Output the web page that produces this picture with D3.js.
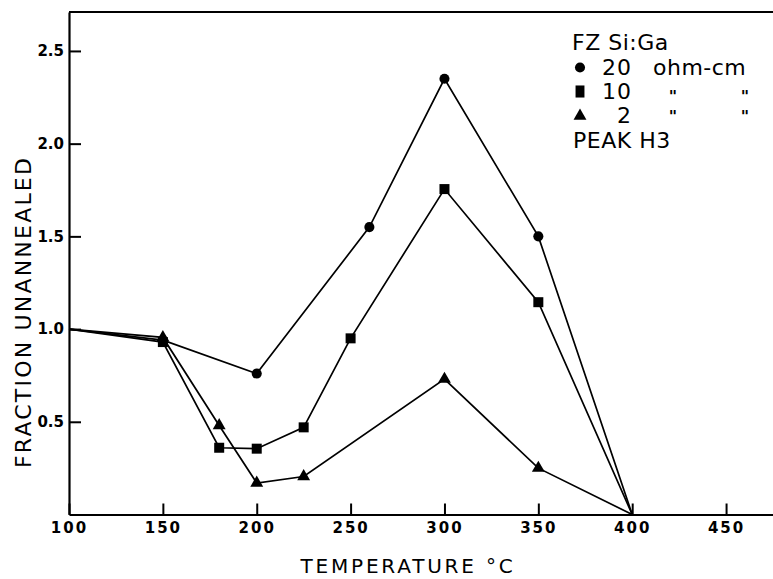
<!DOCTYPE html>
<html>
<head>
<meta charset="utf-8">
<script src="https://cdn.jsdelivr.net/npm/d3@7"></script>
<style>
  body { margin: 0; background: #fff; }
  svg { display: block; font-family: "DejaVu Sans", sans-serif; }
</style>
</head>
<body>
<svg id="chart"></svg>
<script>
let width = 773,
    height = 579,
    svg = d3.select("#chart").attr("width", width).attr("height", height);

// data
const temps20 = [100, 150, 200, 260, 300, 350, 400];
const frac20  = [1.0, 0.94, 0.76, 1.55, 2.35, 1.50, 0.0];

const temps10 = [100, 150, 180, 200, 225, 250, 300, 350, 400];
const frac10  = [1.0, 0.93, 0.36, 0.355, 0.47, 0.95, 1.755, 1.145, 0.0];

const temps2 = [100, 150, 180, 200, 225, 300, 350, 400];
const frac2  = [1.0, 0.955, 0.48, 0.17, 0.205, 0.73, 0.25, 0.0];

const xTicks = [100, 150, 200, 250, 300, 350, 400, 450];
const yTicks = [0.5, 1.0, 1.5, 2.0, 2.5];

const legendTitle = "FZ Si:Ga";
const legendNames = ["20", "10", "2"];
const legendUnit = "ohm-cm";
const legendFoot = "PEAK H3";

let x = d3.scaleLinear().domain([100, 475]).range([69, 773]);
let y = d3.scaleLinear().domain([0, 2.71]).range([514.5, 12]);

// axes
let xAxis = d3.axisBottom(x)
    .tickValues(xTicks)
    .tickSizeInner(-11)
    .tickSizeOuter(0)
    .tickPadding(8)
    .tickFormat(d3.format("d"));

let yAxis = d3.axisLeft(y)
    .tickValues(yTicks)
    .tickSizeInner(-12)
    .tickSizeOuter(0)
    .tickPadding(5)
    .tickFormat(d3.format(".1f"));

let gx = svg.append("g")
    .attr("transform", "translate(0," + y(0) + ")")
    .call(xAxis);
gx.attr("font-family", null).attr("font-size", null);
gx.selectAll("text")
    .style("font-size", "15px")
    .style("font-weight", "bold")
    .style("letter-spacing", "2px")
    .attr("fill", "#000");

let gy = svg.append("g")
    .attr("transform", "translate(" + x(100) + ",0)")
    .call(yAxis);
gy.attr("font-family", null).attr("font-size", null);
gy.selectAll("text")
    .style("font-size", "15px")
    .style("font-weight", "bold")
    .attr("fill", "#000");

svg.selectAll(".domain").attr("stroke", "#000").attr("stroke-width", 2.2);
svg.selectAll(".tick line").attr("stroke", "#000").attr("stroke-width", 2);

// top frame line
svg.append("line")
    .attr("x1", x(100)).attr("x2", width)
    .attr("y1", y(2.71)).attr("y2", y(2.71))
    .attr("stroke", "#000").attr("stroke-width", 2.2);

// axis titles
svg.append("text")
    .attr("x", 408)
    .attr("y", 573)
    .attr("text-anchor", "middle")
    .style("font-size", "20px")
    .style("letter-spacing", "2.8px")
    .text("TEMPERATURE  °C");

svg.append("text")
    .attr("transform", "translate(31,312) rotate(-90)")
    .attr("text-anchor", "middle")
    .style("font-size", "22px")
    .style("letter-spacing", "2.2px")
    .text("FRACTION  UNANNEALED");

// series
let series = [
    {t: temps20, f: frac20, sym: d3.symbolCircle, size: 80},
    {t: temps10, f: frac10, sym: d3.symbolSquare, size: 100},
    {t: temps2,  f: frac2,  sym: d3.symbolTriangle, size: 72}
];

let line = d3.line()
    .x(d => x(d[0]))
    .y(d => y(d[1]));

series.forEach(function (s) {
    let pts = s.t.map((t, i) => [t, s.f[i]]);
    svg.append("path")
        .datum(pts)
        .attr("d", line)
        .attr("fill", "none")
        .attr("stroke", "#000")
        .attr("stroke-width", 1.7);

    svg.selectAll(null)
        .data(pts.filter(d => d[0] > 100 && d[1] > 0))
        .enter()
        .append("path")
        .attr("d", d3.symbol().type(s.sym).size(s.size))
        .attr("transform", d => "translate(" + x(d[0]) + "," + y(d[1]) + ")")
        .attr("fill", "#000");
});

// legend
let leg = svg.append("g").style("font-size", "22px").attr("fill", "#000");
leg.append("text").attr("x", 572).attr("y", 50)
    .style("letter-spacing", "0.5px").text(legendTitle);

let rowY = [74.5, 98.5, 123];
let dittoDy = [0, 3, -1];
legendNames.forEach(function (name, i) {
    leg.append("path")
        .attr("d", d3.symbol().type(series[i].sym).size(i === 1 ? 110 : series[i].size)())
        .attr("transform", "translate(580," + (rowY[i] - 7) + ")" + (i === 1 ? " scale(0.85,1.15)" : ""));
    leg.append("text")
        .attr("x", 632).attr("y", rowY[i])
        .attr("text-anchor", "end")
        .style("letter-spacing", "1px")
        .text(name);
    if (i === 0) {
        leg.append("text").attr("x", 653).attr("y", rowY[i])
            .style("letter-spacing", "0.5px").text(legendUnit);
    } else {
        [673, 745].forEach(function (dx) {
            leg.append("text").attr("x", dx).attr("y", rowY[i] + dittoDy[i])
                .attr("text-anchor", "middle")
                .style("font-size", "16px")
                .style("font-weight", "bold")
                .text("\"");
        });
    }
});

leg.append("text").attr("x", 573).attr("y", 148)
    .style("letter-spacing", "0.5px").text(legendFoot);
</script>
</body>
</html>
